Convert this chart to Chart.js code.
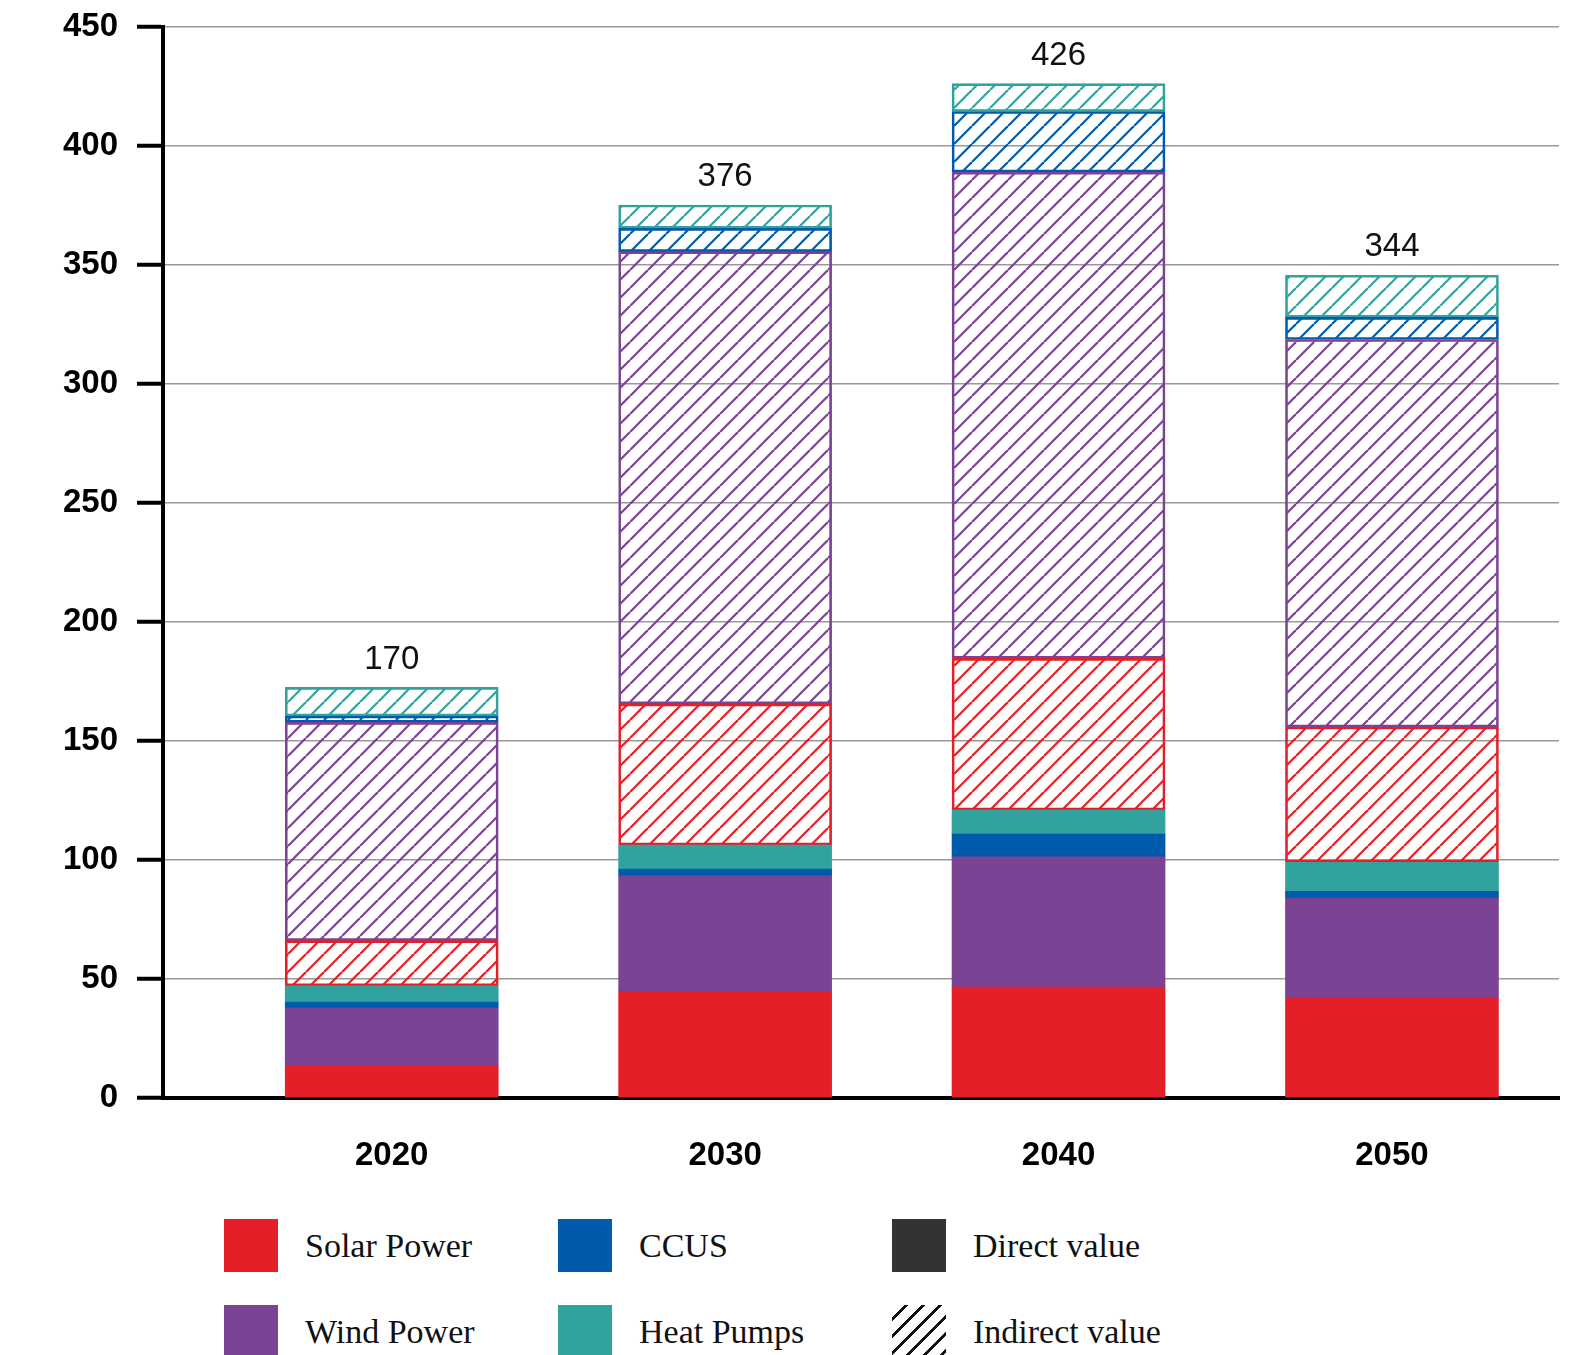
<!DOCTYPE html>
<html lang="en">
<head>
<meta charset="UTF-8">
<title>Direct and indirect value</title>
<script src="https://cdn.jsdelivr.net/npm/chart.js"></script>
<style>
  html, body { margin: 0; background: #fff; overflow: hidden; }
  .wrap { position: relative; width: 1582px; height: 1355px; overflow: hidden; }
  #myChart { position: absolute; left: 0; top: 0; }
  .item { position: absolute; height: 53px; display: flex; align-items: center;
          font-family: "Liberation Serif", "Times New Roman", serif; font-size: 34px; color: #111; }
  .box { width: 54px; height: 53px; margin-right: 27px; flex: none; }
</style>
</head>
<body>
<div class="wrap">
  <canvas id="myChart" width="1582" height="1190"></canvas>
  <div class="item" style="left:224px;top:1219px"><span class="box" style="background:#E41F27"></span>Solar Power</div>
  <div class="item" style="left:558px;top:1219px"><span class="box" style="background:#005BAC"></span>CCUS</div>
  <div class="item" style="left:892px;top:1219px"><span class="box" style="background:#333333"></span>Direct value</div>
  <div class="item" style="left:224px;top:1305px"><span class="box" style="background:#7C4294"></span>Wind Power</div>
  <div class="item" style="left:558px;top:1305px"><span class="box" style="background:#31A39E"></span>Heat Pumps</div>
  <div class="item" style="left:892px;top:1305px"><span class="box" style="background:repeating-linear-gradient(135deg,#fff 0 9px,#111 9px 12px)"></span>Indirect value</div>
</div>
<script>
    const years = [2020, 2030, 2040, 2050];
    const totals = [170, 376, 426, 344];

    // direct value (solid)
    const solarDirect = [13.7, 44.7, 46.6, 42.0];
    const windDirect  = [24.1, 48.6, 54.7, 42.0];
    const ccusDirect  = [2.5, 2.9, 9.6, 2.8];
    const heatDirect  = [6.8, 10.1, 10.1, 12.2];

    // indirect value (hatched)
    const solarIndirect = [19.0, 59.3, 63.7, 56.9];
    const windIndirect  = [91.7, 190.0, 204.3, 162.8];
    const ccusIndirect  = [2.7, 9.8, 25.5, 9.3];
    const heatIndirect  = [12.0, 9.8, 11.7, 17.7];

    const yMax = 450;
    const yStep = 50;

    const RED = '#E41F27', PURPLE = '#7C4294', BLUE = '#005BAC', TEAL = '#31A39E';
    const FONT = '"Liberation Sans", Arial, sans-serif';

    function hatch(color){
        const c = document.createElement('canvas');
        c.width = 18; c.height = 18;
        const g = c.getContext('2d');
        g.strokeStyle = color;
        g.lineWidth = 2.2;
        for (const x0 of [-18, 0, 18]) {
            g.beginPath();
            g.moveTo(x0, 18);
            g.lineTo(x0 + 18, 0);
            g.stroke();
        }
        return g.createPattern(c, 'repeat');
    }

    const pts = arr => arr.map((v, i) => ({x: years[i], y: v}));

    function solid(label, arr, color){
        return { label, data: pts(arr), backgroundColor: color, borderWidth: 0, barThickness: 213 };
    }
    function hatched(label, arr, color){
        return { label, data: pts(arr), backgroundColor: hatch(color), borderColor: color,
                 borderWidth: 2, borderSkipped: false, barThickness: 213 };
    }

    // keep tick label overflow from shrinking the plot area
    function noPad(s){
        s.paddingTop = 0; s.paddingBottom = 0; s.paddingLeft = 0; s.paddingRight = 0;
    }

    const totalLabels = {
        id: 'totalLabels',
        afterDatasetsDraw(chart){
            const {ctx, scales: {x, y}} = chart;
            ctx.save();
            ctx.font = '33px ' + FONT;
            ctx.fillStyle = '#111';
            ctx.textAlign = 'center';
            ctx.textBaseline = 'middle';
            years.forEach((yr, i) => {
                const sum = chart.data.datasets.reduce((s, d) => s + d.data[i].y, 0);
                ctx.fillText(String(totals[i]), x.getPixelForValue(yr), y.getPixelForValue(sum) - 28);
            });
            ctx.restore();
        }
    };

    const ctx = document.querySelector('#myChart');
    const myChart = new Chart(ctx, {
        type: 'bar',
        data: {
            datasets: [
                solid('Solar Power', solarDirect, RED),
                solid('Wind Power', windDirect, PURPLE),
                solid('CCUS', ccusDirect, BLUE),
                solid('Heat Pumps', heatDirect, TEAL),
                hatched('Solar Power (indirect)', solarIndirect, RED),
                hatched('Wind Power (indirect)', windIndirect, PURPLE),
                hatched('CCUS (indirect)', ccusIndirect, BLUE),
                hatched('Heat Pumps (indirect)', heatIndirect, TEAL)
            ]
        },
        options: {
            responsive: false,
            devicePixelRatio: 1,
            animation: false,
            layout: { padding: { top: 27, right: 23, left: 0, bottom: 0 } },
            plugins: { legend: { display: false }, tooltip: { enabled: false } },
            scales: {
                x: {
                    type: 'linear',
                    stacked: true,
                    offset: false,
                    min: 2013.14,
                    max: 2055.01,
                    afterBuildTicks: s => { s.ticks = years.map(v => ({value: v})); },
                    afterFit: s => { s.height = 92; noPad(s); },
                    grid: { display: false, drawTicks: false },
                    border: { display: true, color: '#000', width: 4 },
                    ticks: {
                        color: '#000', padding: 38, maxRotation: 0, autoSkip: false,
                        font: { family: FONT, size: 33, weight: 'bold' },
                        callback: v => String(v)
                    }
                },
                y: {
                    stacked: true,
                    min: 0,
                    max: yMax,
                    afterFit: s => { s.width = 163; noPad(s); },
                    grid: { color: '#999', lineWidth: 1.5, tickLength: 26, tickColor: '#000', tickWidth: 4 },
                    border: { color: '#000', width: 4 },
                    ticks: {
                        stepSize: yStep, color: '#000', padding: 19,
                        font: { family: FONT, size: 33, weight: 'bold' }
                    }
                }
            }
        },
        plugins: [totalLabels]
    });
</script>
</body>
</html>
